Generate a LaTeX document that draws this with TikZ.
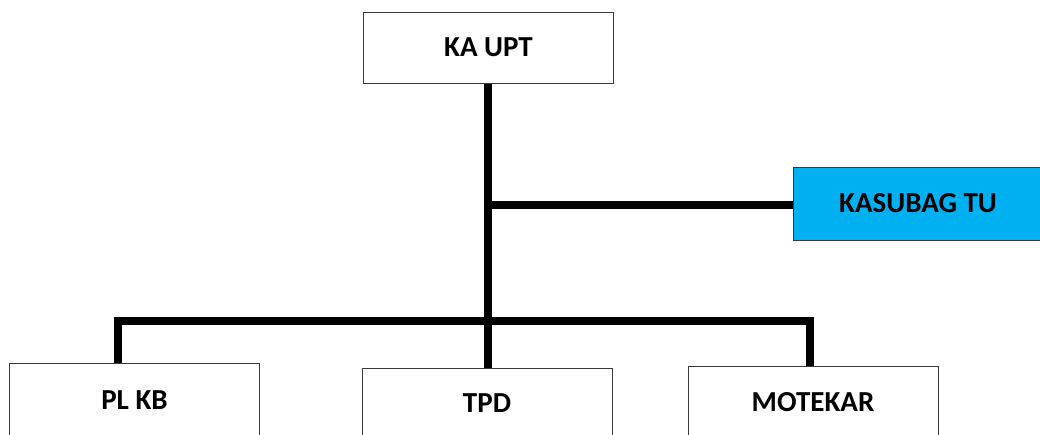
\documentclass[tikz,border=0pt]{standalone}
\usepackage{fontspec}
\setmainfont{Carlito}
\definecolor{skyblue}{HTML}{00B0F0}
\definecolor{boxline}{HTML}{3A3A3A}
\begin{document}
\begin{tikzpicture}[x=1pt,y=-1pt,
  unitbox/.style={draw=boxline,line width=1pt,fill=white,minimum width=250pt,inner sep=0pt,
    font=\fontsize{29}{33}\selectfont\bfseries,anchor=center},
  link/.style={line width=7.5pt,black,line join=miter}]
\useasboundingbox (0,0) rectangle (1040,434);
\clip (0,0) rectangle (1040,434);
\node[unitbox,minimum height=71pt] (kaupt) at (488.5,47.5) {KA UPT};
\node[unitbox,minimum height=73pt,fill=skyblue] (kasubag) at (918,203.5) {KASUBAG TU};
\node[unitbox,minimum height=74pt] (plkb) at (134.5,400) {PL KB};
\node[unitbox,minimum height=70pt] (tpd) at (487,403) {TPD};
\node[unitbox,minimum height=72pt] (motekar) at (813,402) {MOTEKAR};
\coordinate (j1) at (488,205);
\coordinate (b1) at (118,321);
\coordinate (b2) at (810,321);
\draw[link] (kaupt.south -| j1) -- (tpd.north -| j1);
\draw[link] (j1) -- (j1 -| kasubag.west);
\draw[link] (b1 |- plkb.north) -- (b1) -- (b2) -- (b2 |- motekar.north);
\end{tikzpicture}
\end{document}
